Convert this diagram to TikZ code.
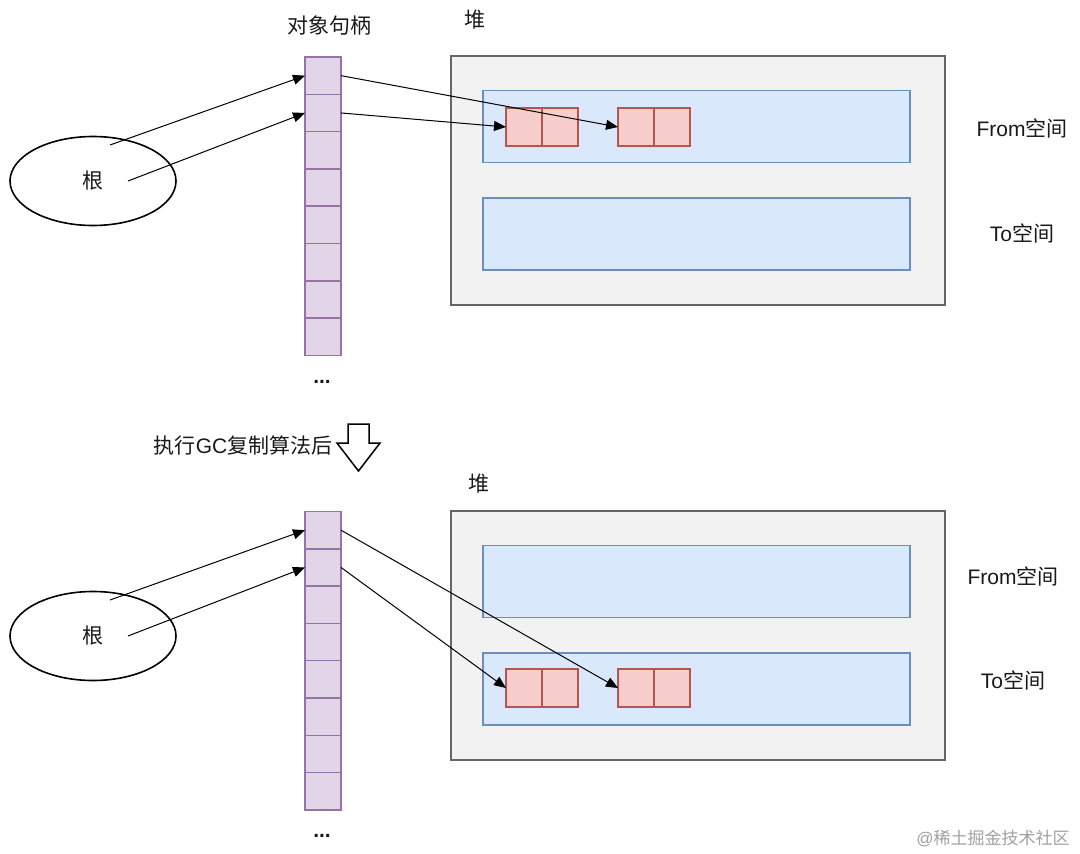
\documentclass[tikz,border=0pt]{standalone}
\usepackage{fontspec}
\setmainfont{Liberation Sans}
\newfontfamily\cjk{Noto Sans CJK SC}
\usetikzlibrary{shapes.geometric,arrows.meta}
\definecolor{cellf}{HTML}{E1D5E7}
\definecolor{celld}{HTML}{9673A6}
\definecolor{objf}{HTML}{F8CECC}
\definecolor{objd}{HTML}{B85450}
\definecolor{spf}{HTML}{DAE8FC}
\definecolor{spd}{HTML}{6C8EBF}
\definecolor{heapf}{HTML}{F2F2F2}
\definecolor{heapd}{HTML}{666666}
\definecolor{wm}{HTML}{A0A0A0}
\tikzset{
 txt/.style={font=\fontsize{21}{24}\selectfont, inner sep=0pt, text=black!90},
 cell/.style={draw=celld, fill=cellf, line width=1.5pt, minimum width=36pt, minimum height=37.3pt, inner sep=0pt, outer sep=0pt},
 obj/.style={draw=objd, fill=objf, line width=1.5pt, minimum width=36pt, minimum height=38pt, inner sep=0pt, outer sep=0pt},
 heap/.style={draw=heapd, fill=heapf, line width=2pt, minimum width=494pt, minimum height=249pt, inner sep=0pt},
 space/.style={draw=spd, fill=spf, line width=1.5pt, minimum width=427pt, minimum height=72pt, inner sep=0pt},
 root/.style={ellipse, draw=black, line width=1.6pt, minimum width=166pt, minimum height=89pt, inner sep=0pt},
 ptr/.style={-{Triangle[length=12pt,width=10pt]}, line width=1pt},
}
\begin{document}
\begin{tikzpicture}[x=1pt,y=-1pt]
\useasboundingbox (0,0) rectangle (1080,854);
% ---------- top ----------
\node[heap] (heapA) at (698,180.5) {};
\node[space] (fromA) at (696.5,126.5) {};
\node[space] (toA) at (696.5,234) {};
\node[obj] (oA1a) at (524,127) {};
\node[obj] (oA1b) at (560,127) {};
\node[obj] (oA2a) at (636,127) {};
\node[obj] (oA2b) at (672,127) {};
\foreach \i in {1,...,8} \node[cell] (a\i) at (323,{57+37.3*(\i-0.5)}) {};
\node[root] (rootA) at (93,181) {};
\node[txt] (rootAt) at (93,181) {\cjk 根};
\node[txt] (hdlA) at (329,26) {\cjk 对象句柄};
\node[txt] (heapAt) at (475,20) {\cjk 堆};
\node[txt] (fromAt) at (1022,128) {From{\cjk 空间}};
\node[txt] (toAt) at (1022,233) {To{\cjk 空间}};
\node[txt, anchor=base, font=\fontsize{21}{24}\selectfont\bfseries] (dotsA) at (322,383) {...};
\coordinate (rA1) at (110,145);
\coordinate (rA2) at (128,181);
\draw[ptr] (rA1) -- (a1.west);
\draw[ptr] (rA2) -- (a2.west);
\draw[ptr] (a1.east) -- (oA2a.west);
\draw[ptr] (a2.east) -- (oA1a.west);
% ---------- middle ----------
\node[txt] (gc) at (243,445) {{\cjk 执行}GC{\cjk 复制算法后}};
\draw[line width=1.5pt, fill=white] (348,424) -- (369,424) -- (369,443) -- (380,443) -- (358.5,471) -- (337,443) -- (348,443) -- cycle;
% ---------- bottom ----------
\node[heap] (heapB) at (698,635.5) {};
\node[space] (fromB) at (696.5,581.5) {};
\node[space] (toB) at (696.5,689) {};
\node[obj] (oB1a) at (524,688) {};
\node[obj] (oB1b) at (560,688) {};
\node[obj] (oB2a) at (636,688) {};
\node[obj] (oB2b) at (672,688) {};
\foreach \i in {1,...,8} \node[cell] (b\i) at (323,{511.5+37.3*(\i-0.5)}) {};
\node[root] (rootB) at (93,636) {};
\node[txt] (rootBt) at (93,636) {\cjk 根};
\node[txt] (heapBt) at (479,484) {\cjk 堆};
\node[txt] (fromBt) at (1013,576) {From{\cjk 空间}};
\node[txt] (toBt) at (1013,680) {To{\cjk 空间}};
\node[txt, anchor=base, font=\fontsize{21}{24}\selectfont\bfseries] (dotsB) at (322,837) {...};
\coordinate (rB1) at (110,600);
\coordinate (rB2) at (128,636);
\draw[ptr] (rB1) -- (b1.west);
\draw[ptr] (rB2) -- (b2.west);
\draw[ptr] (b1.east) -- (oB2a.west);
\draw[ptr] (b2.east) -- (oB1a.west);
% watermark
\node[font=\fontsize{17}{20}\selectfont, text=wm, inner sep=0pt] (wmk) at (993,838) {@{\cjk 稀土掘金技术社区}};
\end{tikzpicture}
\end{document}
